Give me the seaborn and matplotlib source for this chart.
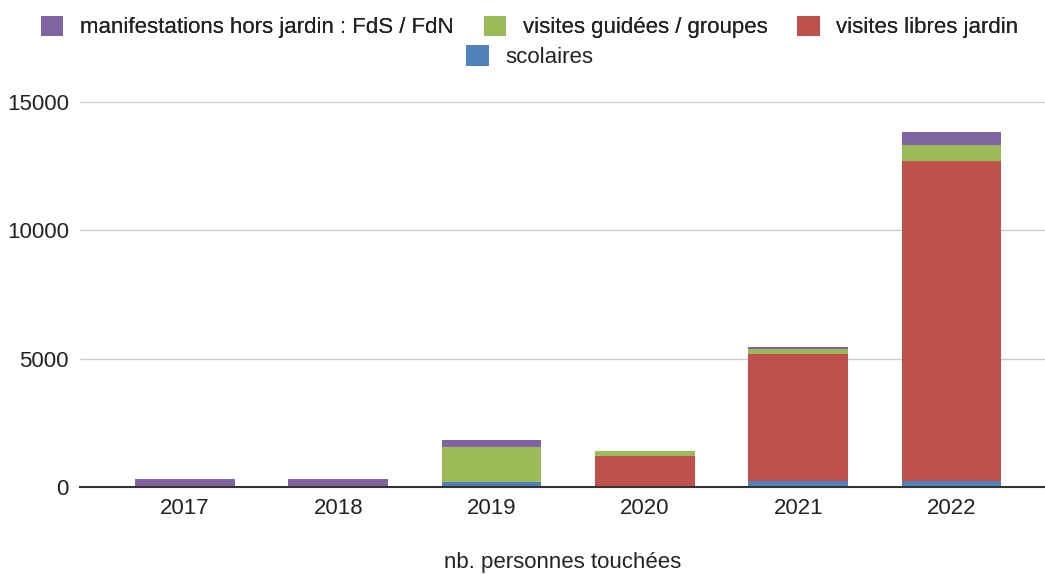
import matplotlib
matplotlib.use("Agg")
import matplotlib.pyplot as plt
import seaborn as sns
import pandas as pd
import numpy as np
from matplotlib.patches import Patch

years = ["2017", "2018", "2019", "2020", "2021", "2022"]
scolaires = [0, 0, 180, 0, 230, 230]
visites_libres = [0, 0, 0, 1205, 4945, 12460]
visites_guidees = [0, 0, 1375, 207, 195, 650]
manifestations = [320, 320, 275, 0, 90, 480]

series_names = ["manifestations hors jardin : FdS / FdN", "visites guidées / groupes",
                "visites libres jardin", "scolaires"]
colors = {"scolaires": "#4F81BD", "visites libres jardin": "#C0504D",
          "visites guidées / groupes": "#9BBB59",
          "manifestations hors jardin : FdS / FdN": "#8064A2"}

sns.set_theme(style="white")
plt.rcParams['font.family'] = ['Liberation Sans', 'DejaVu Sans']

FS = 16

fig = plt.figure(figsize=(10.45, 5.74), dpi=100)
ax = fig.add_axes([80/1045, 87/574, 965/1045, 385/574])

s = np.array(scolaires, dtype=float)
l = np.array(visites_libres, dtype=float)
g = np.array(visites_guidees, dtype=float)
m = np.array(manifestations, dtype=float)
layers = [
    ("manifestations hors jardin : FdS / FdN", s + l + g + m),
    ("visites guidées / groupes", s + l + g),
    ("visites libres jardin", s + l),
    ("scolaires", s),
]
for name, vals in layers:
    df = pd.DataFrame({"year": years, "value": vals})
    sns.barplot(data=df, x="year", y="value", color=colors[name], width=0.65,
                saturation=1, ax=ax, order=years, linewidth=0, errorbar=None)

ax.set_xlim(-0.685, 5.61)
ax.set_ylim(0, 15000)
ax.set_yticks([0, 5000, 10000, 15000])
ax.set_yticklabels(["0", "5000", "10000", "15000"])
ax.yaxis.grid(True, color="#cccccc", linewidth=1)
ax.set_axisbelow(True)
for sp in ["top", "right", "left"]:
    ax.spines[sp].set_visible(False)
ax.spines["bottom"].set_color("#333333")
ax.spines["bottom"].set_linewidth(1.5)
ax.spines["bottom"].set_zorder(5)
ax.tick_params(axis="both", length=0, labelsize=FS, colors="#222222")
ax.tick_params(axis="x", pad=8)
ax.tick_params(axis="y", pad=8)
ax.set_ylabel("")
ax.set_xlabel("nb. personnes touchées", fontsize=FS, color="#222222", labelpad=24)

handles = [Patch(facecolor=colors[n], edgecolor="none", label=n) for n in series_names]
leg1 = fig.legend(handles=handles[:3], loc="center", bbox_to_anchor=(0.507, 0.953),
                  ncol=3, frameon=False, fontsize=FS, handlelength=1.0, handleheight=1.05,
                  handletextpad=0.75, columnspacing=1.35, labelcolor="#222222")
leg2 = fig.legend(handles=handles[3:], loc="center", bbox_to_anchor=(0.507, 0.901),
                  ncol=1, frameon=False, fontsize=FS, handlelength=1.0, handleheight=1.05,
                  handletextpad=0.75, labelcolor="#222222")
fig.add_artist(leg1)

fig.savefig("out.png", dpi=100)
